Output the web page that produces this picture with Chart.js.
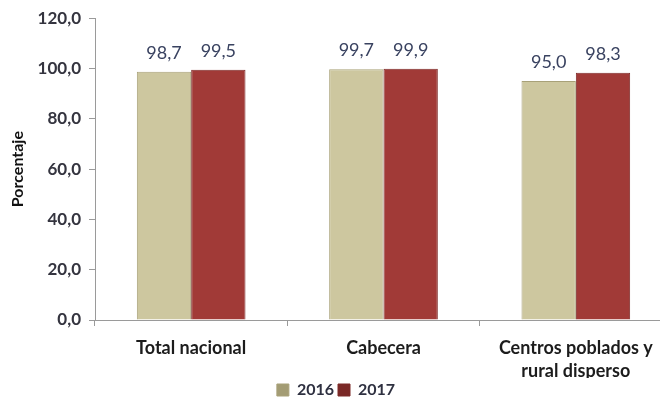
<!DOCTYPE html>
<html><head><meta charset="utf-8">
<script src="https://cdn.jsdelivr.net/npm/chart.js@4/dist/chart.umd.min.js"></script>
<style>
html,body{margin:0;padding:0;background:#fff;overflow:hidden;}
#wrap{width:672px;height:408px;position:relative;}
</style></head>
<body><div id="wrap"><canvas id="c"></canvas></div>
<script>
const categories = ["Total nacional", "Cabecera", ["Centros poblados y", "rural disperso"]];
const years = ["2016", "2017"];
const values2016 = [98.7, 99.7, 95.0];
const values2017 = [99.5, 99.9, 98.3];
const yTicks = [0, 20, 40, 60, 80, 100, 120];

const fmt = v => v.toFixed(1).replace('.', ',');
const FONT = "Lato, 'Open Sans', sans-serif";

function grad(ctx, light, mid, dark) {
  const c = ctx.chart.ctx;
  const el = ctx.element;
  if (!el || el.x === undefined || el.width === undefined) return mid;
  const x0 = el.x - el.width / 2, x1 = el.x + el.width / 2;
  const g = c.createLinearGradient(x0, 0, x1, 0);
  g.addColorStop(0, dark);
  g.addColorStop(0.1, light);
  g.addColorStop(0.5, mid);
  g.addColorStop(0.9, mid);
  g.addColorStop(1, dark);
  return g;
}

const labelPlugin = {
  id: 'vals',
  afterDatasetsDraw(chart) {
    const c = chart.ctx;
    c.save();
    c.font = "18px " + FONT;
    c.fillStyle = "#394260";
    c.textAlign = "center";
    c.textBaseline = "alphabetic";
    chart.data.datasets.forEach((ds, i) => {
      chart.getDatasetMeta(i).data.forEach((bar, j) => {
        c.fillText(fmt(ds.data[j]), bar.x, bar.y - 13);
      });
    });
    c.restore();
  }
};

new Chart(document.getElementById('c'), {
  type: 'bar',
  data: {
    labels: categories,
    datasets: [
      { label: years[0], data: values2016,
        backgroundColor: ctx => grad(ctx, '#d9d4ae', '#cdc79f', '#a39c74'),
        borderColor: '#a8a178', borderWidth: 1 },
      { label: years[1], data: values2017,
        backgroundColor: ctx => grad(ctx, '#b14a46', '#a13a37', '#7a2826'),
        borderColor: '#7d2a28', borderWidth: 1 }
    ]
  },
  options: {
    responsive: true, maintainAspectRatio: false, animation: false,
    layout: { padding: { top: 10, right: 0, left: 0, bottom: 0 } },
    datasets: { bar: { barPercentage: 1.0, categoryPercentage: 0.565 } },
    scales: {
      x: {
        grid: { display: true, drawOnChartArea: false, drawTicks: true, tickLength: 6, color: '#9a9a9a', offset: true },
        border: { display: true, color: '#9a9a9a' },
        ticks: { color: '#1c1c1c', font: { family: FONT, size: 18, weight: 'bold', lineHeight: 1.3 }, padding: 10 },
        afterFit: s => { s.height = 58; }
      },
      y: {
        min: 0, max: 120,
        afterBuildTicks: s => { s.ticks = yTicks.map(v => ({ value: v })); },
        grid: { display: true, drawOnChartArea: false, drawTicks: true, tickLength: 6, color: '#9a9a9a' },
        border: { display: true, color: '#9a9a9a' },
        ticks: { color: '#34343f', font: { family: FONT, size: 17, weight: 'bold' }, padding: 8, callback: v => fmt(v) },
        title: { display: true, text: 'Porcentaje', color: '#111', font: { family: FONT, size: 16, weight: 'bold' }, padding: { top: 8, bottom: 4 } },
        afterFit: s => { s.width = 95; }
      }
    },
    plugins: {
      legend: {
        position: 'bottom',
        labels: { boxWidth: 12, boxHeight: 12, padding: 4, color: '#2e3040', font: { family: FONT, size: 16, weight: 'bold' } }
      },
      tooltip: { enabled: false }
    }
  },
  plugins: [labelPlugin]
});
</script></body></html>
